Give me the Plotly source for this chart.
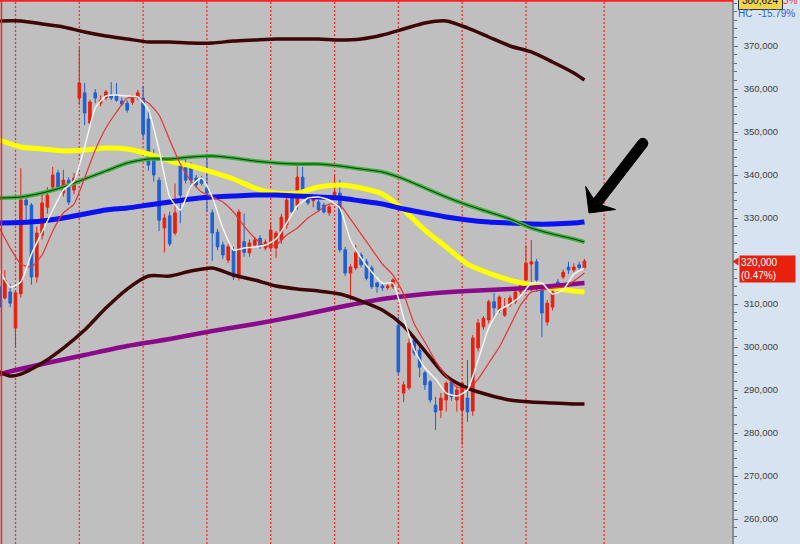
import plotly.graph_objects as go

# ---------------- data ----------------
bar_index = list(range(111))

open_ = [314000, 311400, 312800, 304400, 312400, 334200, 333000, 316300, 326000, 332500,
         337200, 340500, 335800, 338800, 336500, 357900, 359100, 352100, 359100, 356700,
         357900, 358600, 358600, 357200, 356700, 356900, 358100, 357900, 353000, 344500,
         338800, 327700, 330500, 326500, 342300, 341900, 342300, 339300, 339300, 337000,
         331200, 326700, 323700, 320200, 322600, 316300, 324500, 321900, 323700, 325300,
         323000, 323000, 323000, 324900, 328400, 334900, 333000, 339500, 334700, 334000,
         333700, 333000, 331200, 334900, 335800, 322600, 317200, 318400, 321400, 319800,
         318400, 314900, 314200, 313800, 314000, 305000, 289300, 290500, 301600, 299300,
         294000, 291900, 286500, 285300, 287700, 291900, 287700, 285300, 288100, 285100,
         299800, 304700, 306300, 310500, 308600, 307400, 309800, 310500, 312800, 315600,
         319300, 319800, 313300, 305800, 309300, 315100, 316300, 318600, 317900, 319100,
         318400]
high = [314500, 317900, 314700, 313000, 341600, 334900, 333500, 328000, 335500, 337200,
        341900, 341200, 341200, 339500, 340500, 369500, 361400, 357500, 360000, 358500,
        359800, 361600, 361400, 358000, 357400, 358600, 359800, 360700, 355000, 346000,
        339500, 331000, 331500, 338000, 343000, 344200, 343000, 340000, 339800, 345000,
        332000, 327500, 324500, 324000, 323300, 332000, 331000, 325000, 325600, 326000,
        325000, 329000, 327000, 331000, 335000, 335500, 342300, 341900, 335300, 335000,
        334200, 333500, 333000, 340000, 338800, 323300, 319200, 323700, 322000, 320500,
        319000, 315100, 314600, 314600, 316000, 307000, 292000, 302000, 302300, 300000,
        294500, 292300, 288400, 289300, 292000, 292300, 291000, 292000, 297000, 302800,
        306500, 307200, 311000, 312600, 312000, 311400, 312000, 313500, 315000, 323700,
        324900, 320500, 314000, 310900, 313500, 315800, 318000, 319800, 319500, 319800,
        320500]
low = [308000, 311000, 309300, 300000, 311500, 329500, 314500, 315000, 325000, 331000,
       336500, 336500, 335000, 333000, 335500, 356300, 351600, 351500, 356700, 356000,
       357400, 357400, 357000, 356000, 354500, 356300, 357400, 348500, 341000, 338500,
       327000, 322000, 323500, 326000, 328800, 338000, 337500, 337000, 337500, 331400,
       320000, 322500, 320500, 319500, 315600, 315500, 321000, 321000, 323000, 322800,
       322500, 322500, 320700, 324000, 327500, 331000, 332000, 335800, 333000, 332500,
       331400, 331000, 330500, 334500, 322000, 316500, 310900, 317900, 318500, 315500,
       313500, 312600, 313000, 313300, 313500, 293500, 287200, 290000, 298000, 293000,
       290000, 287000, 280700, 283500, 285000, 287500, 285000, 277200, 282600, 284000,
       299000, 304000, 305500, 306700, 308000, 307000, 309300, 310000, 312300, 312800,
       312800, 312800, 302300, 305000, 308500, 312800, 315800, 317000, 317400, 318000,
       318000]
close = [309300, 315600, 310200, 312600, 334200, 333000, 316300, 326500, 333500, 335300,
         340000, 337200, 338800, 333700, 339300, 361400, 354400, 357000, 357900, 357400,
         359300, 357900, 357400, 356500, 355100, 357900, 359100, 349500, 342300, 340000,
         329500, 330000, 324000, 331200, 335300, 338800, 338800, 337700, 338100, 335800,
         326500, 323300, 321400, 323300, 316300, 331400, 322000, 324200, 324900, 323300,
         324400, 327200, 326500, 330200, 334200, 331400, 339500, 336500, 333500, 334400,
         331900, 331400, 332600, 336000, 322600, 317200, 318600, 321900, 319100, 316000,
         314000, 314000, 313800, 314200, 315600, 294200, 291200, 300900, 298600, 295300,
         291200, 287700, 284900, 288100, 291600, 288400, 290000, 291600, 284900, 302100,
         305600, 306700, 310500, 309100, 311600, 309100, 311400, 312800, 314400, 319500,
         319800, 315600, 307900, 310200, 312800, 313300, 317400, 317900, 318600, 318500,
         320000]

# moving-average style lines, read at sampled bars
idx_2 = list(range(0, 111, 2))
idx_4 = list(range(0, 109, 4)) + [110]
idx_lower = [0, 2, 4] + list(range(8, 109, 4)) + [110]
idx_8 = list(range(0, 105, 8)) + [110]

white_ma = [317900, 313940, 315110, 321620, 326740, 331860, 336510, 338600, 346510, 355580,
            358370, 358600, 358370, 358140, 355110, 345810, 334880, 331860, 337440, 339300,
            334880, 327670, 322550, 323020, 323250, 323710, 325110, 328830, 332780, 334650,
            334880, 334180, 332320, 324880, 320690, 317430, 314880, 314880, 306730, 299290,
            295100, 292540, 289290, 288590, 289990, 296970, 304410, 308590, 309990, 311850,
            314880, 314880, 312320, 313250, 316970, 318360]
red_ma = [327670, 323020, 319290, 318600, 321390, 326970, 331160, 333250, 339300, 345810,
          350930, 354650, 357900, 358140, 356740, 353950, 348140, 342550, 338600, 336040,
          334880, 333720, 331390, 328130, 325340, 323480, 323710, 326040, 327670, 330000,
          331620, 333250, 333020, 329760, 326270, 322780, 319290, 316740, 312320, 305340,
          301150, 296730, 293240, 290680, 290220, 292540, 296270, 299990, 304870, 309760,
          312780, 313250, 313710, 313940, 315340, 317200]
yellow_ma = [348140, 346510, 346040, 345580, 345810, 346280, 346040, 344880, 343250, 342090,
             340690, 339070, 336970, 335810, 335810, 337200, 337670, 336970, 335580, 331860,
             327200, 323250, 319290, 317200, 315570, 314410, 313710, 313020, 312780]
green_ma = [334650, 334880, 335810, 337200, 339070, 340930, 342790, 343720, 343720, 344180,
            344420, 343950, 343250, 342790, 342550, 342550, 342090, 341390, 340690, 339070,
            336970, 334880, 333020, 331390, 329760, 327670, 326270, 325110, 324410]
blue_ma = [328830, 328950, 329300, 330000, 330920, 331860, 332320, 333020, 333720, 334410,
           334880, 335110, 335340, 335340, 335110, 334880, 334650, 333950, 333250, 332090,
           331160, 330230, 329530, 329060, 328830, 328600, 328600, 328830, 329060]
band_upper = [375820, 375820, 375120, 374420, 373260, 372330, 371630, 370930, 370930, 370700,
              370700, 371160, 371400, 371630, 371630, 371630, 371400, 371630, 372560, 373950,
              375350, 375820, 374190, 372090, 370000, 368610, 366280, 363720, 362090]
band_lower = [294170, 293240, 293710, 296270, 299760, 303940, 309060, 313480, 316500, 316500,
              317670, 318360, 316740, 315570, 314180, 313480, 313020, 312320, 310690, 308590,
              304870, 299060, 293240, 290450, 288830, 287660, 287190, 286960, 286730, 286730]
purple_ma = [293710, 296030, 298130, 300220, 301850, 303710, 305340, 307200, 309290, 311150,
             312320, 313020, 313480, 314180, 314880]

period_marks = [3, 15, 27, 39, 51, 63, 75, 87, 99, 113.7]
y_ticks = list(range(260000, 370001, 10000))
last_price = 320000
y_tick_text = ["" if v == last_price else f"{v:,}" for v in y_ticks]

last_price_text = "320,000<br>(0.47%)"
high_label = "380,624"
high_pct = "3%"
hc_label = "HC\u00a0\u00a0-15.79%"

# ---------------- figure ----------------
W, H = 800, 544
PLOT_W = 732


def px(x, y):
    return f"{x / PLOT_W:.5f},{1 - y / H:.5f}"


fig = go.Figure()

fig.add_trace(go.Candlestick(
    x=bar_index, open=open_, high=high, low=low, close=close,
    increasing=dict(line=dict(color="#e8200e", width=1), fillcolor="#e8200e"),
    decreasing=dict(line=dict(color="#1f60d2", width=1), fillcolor="#1f60d2"),
    whiskerwidth=0, showlegend=False, hoverinfo="skip",
))


def add_line(xs, ys, color, width, smooth=0.7):
    fig.add_trace(go.Scatter(
        x=xs, y=ys, mode="lines", showlegend=False, hoverinfo="skip",
        line=dict(color=color, width=width, shape="spline", smoothing=smooth),
    ))


add_line(idx_4, yellow_ma, "#ffff00", 5)
add_line(idx_4, blue_ma, "#0a12f2", 5)
add_line(idx_4, green_ma, "#3cb43c", 4)
add_line(idx_4, green_ma, "#123012", 1)
add_line(idx_8, purple_ma, "#8a0a8a", 4.5)
add_line(idx_4, band_upper, "#3e0606", 3.5)
add_line(idx_lower, band_lower, "#3e0606", 3.5)
add_line(idx_2, red_ma, "#e83232", 1.2, 0.5)
add_line(idx_2, white_ma, "#f4f4f4", 1.5, 0.5)

shapes = []
for m in period_marks:
    shapes.append(dict(type="line", xref="x", yref="paper", x0=m, x1=m, y0=0, y1=1,
                       line=dict(color="#ff2a2a", width=1.3, dash="2px,2px"), layer="below"))
# red frame at top and left
shapes.append(dict(type="line", xref="paper", yref="paper", x0=0, x1=1.0015, y0=0.9985, y1=0.9985,
                   line=dict(color="#ff2020", width=2)))
shapes.append(dict(type="line", xref="paper", yref="paper", x0=0.002, x1=0.002, y0=0, y1=1,
                   line=dict(color="#ff2020", width=1.5)))

# black arrow
tip = (589, 213)
pts = [tip, (615.5, 209.5), (601.6, 205.0), (646.8, 146.4), (638.8, 140.2),
       (593.6, 198.8), (585.7, 186.5)]
path = "M " + " L ".join(px(*p) for p in pts) + " Z"
shapes.append(dict(type="path", xref="paper", yref="paper", path=path,
                   fillcolor="#000000", line=dict(color="#000000", width=1)))
shapes.append(dict(type="circle", xref="paper", yref="paper",
                   x0=637.8 / PLOT_W, x1=647.8 / PLOT_W, y0=1 - 148.3 / H, y1=1 - 138.3 / H,
                   fillcolor="#000000", line=dict(color="#000000", width=1)))
# pointer of the last-price label
tri = [(732.5, 261.5), (738.5, 257.5), (738.5, 265.5)]
shapes.append(dict(type="path", xref="paper", yref="paper",
                   path="M " + " L ".join(px(*p) for p in tri) + " Z",
                   fillcolor="#e8200e", line=dict(color="#e8200e", width=0)))

annotations = [
    dict(xref="paper", yref="paper", x=781 / PLOT_W, y=1 - 0 / H, xanchor="left", yanchor="middle",
         text=high_pct, showarrow=False, font=dict(color="#e84040", size=10, family="Liberation Sans")),
    dict(xref="paper", yref="paper", x=738 / PLOT_W, y=1 - 0 / H, xanchor="left", yanchor="middle",
         text=high_label, showarrow=False, bgcolor="#f2d34a", bordercolor="#333333", borderwidth=1,
         borderpad=3, font=dict(color="#111111", size=10, family="Liberation Sans")),
    dict(xref="paper", yref="paper", x=736 / PLOT_W, y=1 - 13 / H, xanchor="left", yanchor="middle",
         text=hc_label, showarrow=False, font=dict(color="#2a62d8", size=10, family="Liberation Sans")),
    dict(xref="paper", yref="y", x=738.5 / PLOT_W, y=321500, xanchor="left", yanchor="top",
         text=last_price_text, showarrow=False, align="left", width=53, bgcolor="#e8200e",
         borderpad=1, font=dict(color="#ffffff", size=10, family="Liberation Sans")),
]

fig.update_layout(
    width=W, height=H,
    margin=dict(l=0, r=W - PLOT_W, t=0, b=0, pad=0),
    paper_bgcolor="#d7e3f1", plot_bgcolor="#bfbfbf",
    boxgap=0.3, boxgroupgap=0.3,
    showlegend=False,
    shapes=shapes, annotations=annotations,
    xaxis=dict(range=[0.085, 137.75], visible=False, rangeslider=dict(visible=False),
               showgrid=False, zeroline=False, fixedrange=True),
    yaxis=dict(side="right", range=[254186, 380698], tickvals=y_ticks, ticktext=y_tick_text,
               ticks="outside", ticklen=4, tickcolor="#6a6a6a", tickwidth=1,
               showline=True, linecolor="#8c8c8c", linewidth=1.5,
               showgrid=False, zeroline=False, ticklabelstandoff=4,
               tickfont=dict(size=9.5, color="#404040", family="Liberation Sans"),
               minor=dict(dtick=2000, tick0=0, ticks="outside", ticklen=3, tickcolor="#6a6a6a",
                          showgrid=False),
               fixedrange=True),
)

fig.write_html(
    "out.html",
    config={"displayModeBar": False},
    post_script="document.body.style.margin='0';document.body.style.overflow='hidden';",
)
